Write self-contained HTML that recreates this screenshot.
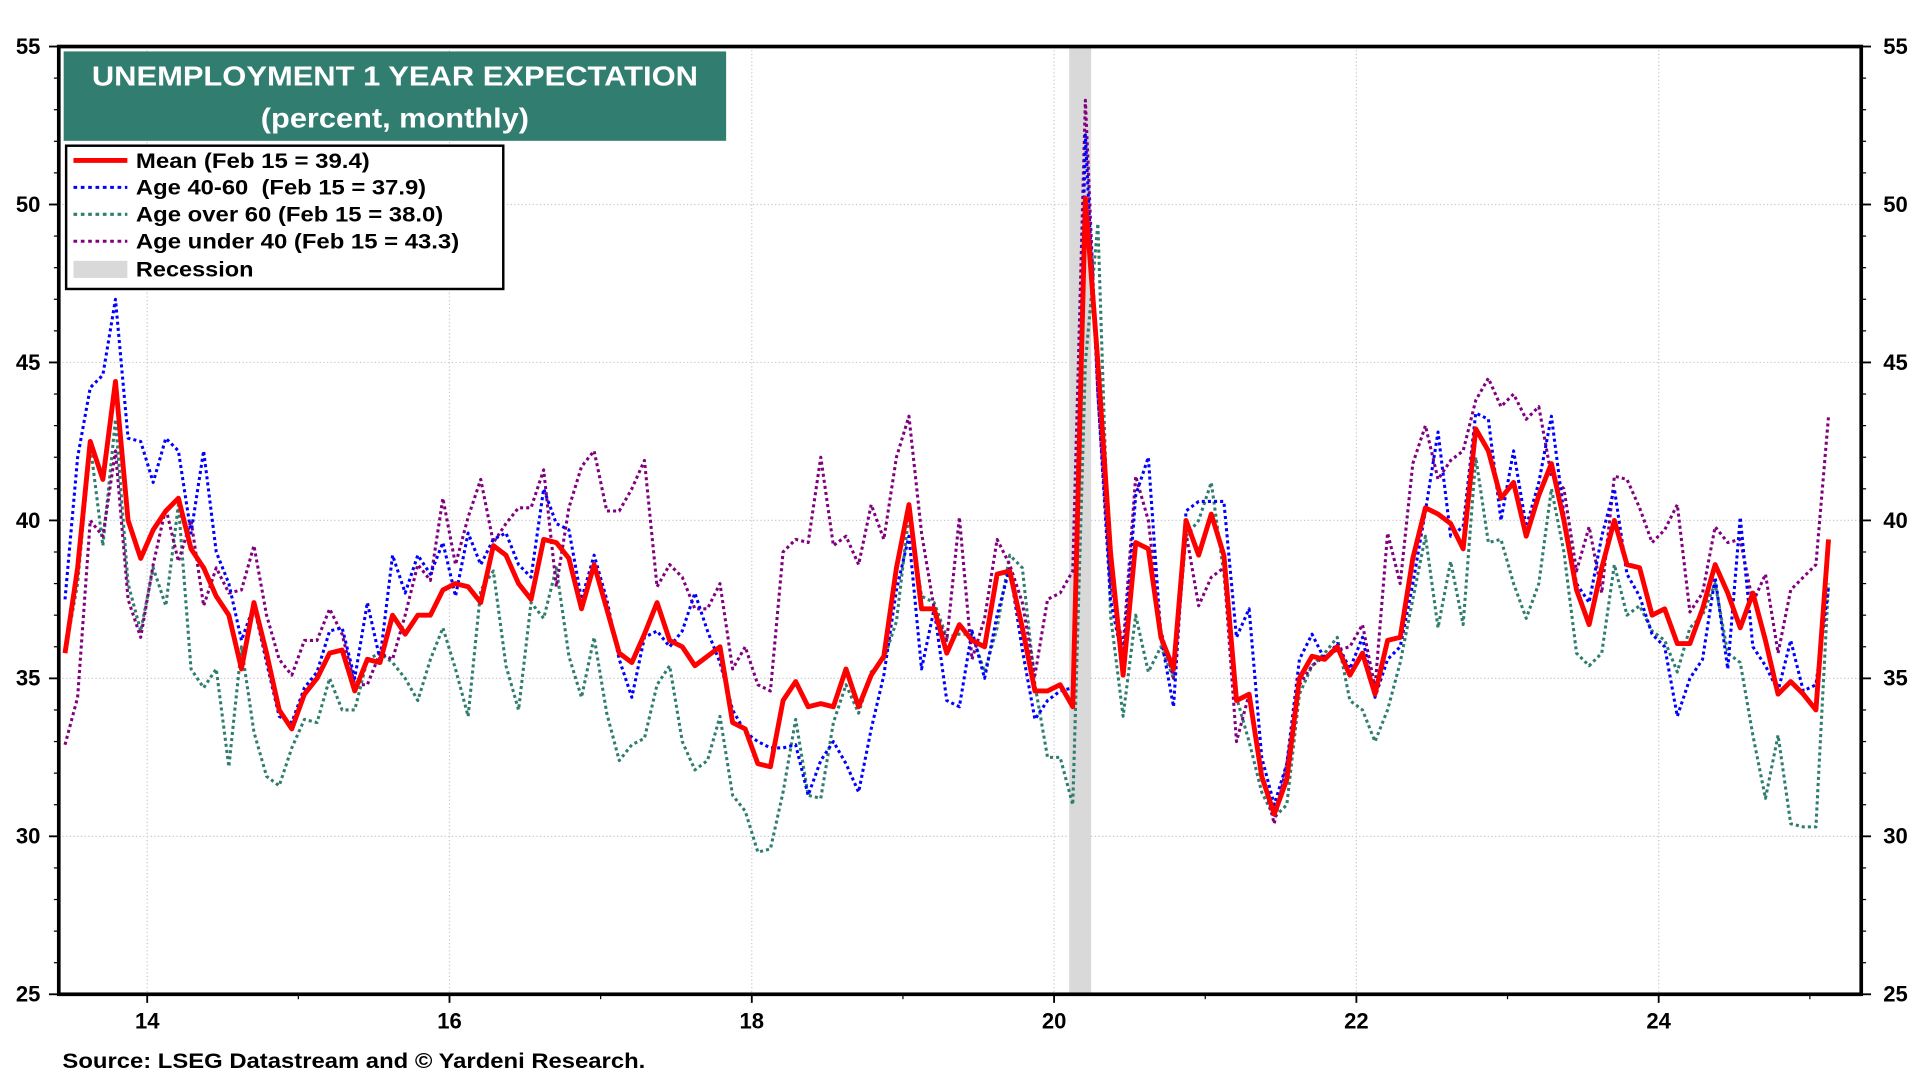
<!DOCTYPE html>
<html><head><meta charset="utf-8"><style>
html,body{margin:0;padding:0;background:#fff;}
svg{display:block;font-family:"Liberation Sans",Arial,sans-serif;}
</style></head><body>
<svg id="chart" width="1920" height="1080" viewBox="0 0 1568 882" xmlns="http://www.w3.org/2000/svg">
<g id="grid"></g>
<g id="rec"></g>
<g id="series"></g>
<rect x="48" y="38" width="1472" height="774" fill="none" stroke="#000" stroke-width="3"/>
<g id="axes"></g>
<g>
<rect x="52" y="42" width="541" height="73" fill="#317e70"/>
<text x="75" y="70" textLength="495" lengthAdjust="spacingAndGlyphs" fill="#fff" font-size="23" font-weight="bold">UNEMPLOYMENT 1 YEAR EXPECTATION</text>
<text x="213" y="104" textLength="219" lengthAdjust="spacingAndGlyphs" fill="#fff" font-size="23" font-weight="bold">(percent, monthly)</text>
</g>
<g font-size="17" font-weight="bold">
<rect x="54" y="119" width="357" height="117" fill="#fff" stroke="#000" stroke-width="2"/>
<g><line x1="60" y1="131" x2="104" y2="131" stroke="#f00" stroke-width="4"/><text x="111" y="137" textLength="191" lengthAdjust="spacingAndGlyphs">Mean (Feb 15 = 39.4)</text></g>
<g><line x1="60" y1="153" x2="104" y2="153" stroke="#00f" stroke-width="2.5" stroke-dasharray="3,3"/><text x="111" y="159" textLength="237" lengthAdjust="spacingAndGlyphs" xml:space="preserve">Age 40-60  (Feb 15 = 37.9)</text></g>
<g><line x1="60" y1="175" x2="104" y2="175" stroke="#2e7d6e" stroke-width="2.5" stroke-dasharray="3,3"/><text x="111" y="181" textLength="251" lengthAdjust="spacingAndGlyphs">Age over 60 (Feb 15 = 38.0)</text></g>
<g><line x1="60" y1="197" x2="104" y2="197" stroke="#800080" stroke-width="2.5" stroke-dasharray="3,3"/><text x="111" y="203" textLength="264" lengthAdjust="spacingAndGlyphs">Age under 40 (Feb 15 = 43.3)</text></g>
<g><rect x="60" y="213" width="44" height="14" fill="#d9d9d9"/><text x="111" y="226" textLength="96" lengthAdjust="spacingAndGlyphs">Recession</text></g>
</g>
<text x="51" y="872" textLength="476" lengthAdjust="spacingAndGlyphs" font-size="17" font-weight="bold">Source: LSEG Datastream and © Yardeni Research.</text>
</svg>
<script>
const yTicks=[25,30,35,40,45,50,55];
const xTickYears=[2014,2016,2018,2020,2022,2024];
const xTickLabels=["14","16","18","20","22","24"];
const startYear=2013, startMonth=6;
const recession=[[2020.1,2020.245]];
const meanVals=[35.8,38.5,42.5,41.3,44.4,40.0,38.8,
39.7,40.3,40.7,39.1,38.5,37.6,37.0,35.3,37.4,35.8,34.0,33.4,
34.5,35.0,35.8,35.9,34.6,35.6,35.5,37.0,36.4,37.0,37.0,37.8,
38.0,37.9,37.4,39.2,38.9,38.0,37.5,39.4,39.3,38.8,37.2,38.6,
37.2,35.8,35.5,36.4,37.4,36.2,36.0,35.4,35.7,36.0,33.6,33.4,
32.3,32.2,34.3,34.9,34.1,34.2,34.1,35.3,34.1,35.1,35.7,38.5,
40.5,37.2,37.2,35.8,36.7,36.2,36.0,38.3,38.4,36.6,34.6,34.6,
34.8,34.1,50.2,45.0,39.0,35.1,39.3,39.1,36.3,35.3,40.0,38.9,
40.2,38.9,34.3,34.5,31.9,30.7,31.8,35.0,35.7,35.6,36.0,35.1,
35.8,34.5,36.2,36.3,38.8,40.4,40.2,39.9,39.1,42.9,42.2,40.7,
41.2,39.5,40.8,41.8,40.0,37.8,36.7,38.5,40.0,38.6,38.5,37.0,
37.2,36.1,36.1,37.2,38.6,37.7,36.6,37.7,36.2,34.5,34.9,34.5,
34.0,39.4];
const age4060Vals=[37.5,42,44.2,44.6,47.0,42.6,42.5,41.2,42.6,42.2,
39.6,42.2,39.0,38.0,36.2,37.3,35.5,33.8,33.6,34.7,
35.2,36.5,36.6,35.0,37.4,35.6,38.9,37.7,38.9,38.3,
39.3,37.6,39.6,38.6,39.4,39.6,38.6,38.2,41.0,39.9,
39.7,37.5,38.9,37.5,35.6,34.4,36.3,36.5,36.0,36.5,
37.7,36.5,35.5,34.0,33.3,33.0,32.8,32.8,32.9,31.3,
32.4,33.0,32.3,31.4,33.4,35.1,37.8,39.5,35.3,37.2,
34.3,34.1,36.5,35.0,37.0,38.5,35.9,33.7,34.3,34.6,
34.7,52.2,44.0,37.5,35.5,40.8,42.0,36.3,34.1,40.3,
40.6,40.6,40.6,36.3,37.2,32.5,31.0,32.3,35.6,36.4,
35.6,36.1,35.3,36.3,34.4,35.6,36.0,38.0,40.3,42.8,
39.5,39.8,43.4,43.2,40.0,42.2,39.8,41.2,43.3,40.2,
38.0,37.4,39.5,41.0,38.3,37.6,36.4,36.0,33.8,35.0,
35.6,38.2,35.3,40.1,36.0,35.4,34.6,36.2,34.6,34.8,37.9];
const over60Vals=[35.8,38,42.4,39.2,43.2,38.0,36.5,38.5,37.3,40.5,
35.3,34.7,35.3,32.2,36.0,33.3,31.9,31.6,32.8,33.7,
33.6,35.0,34.0,34.0,35.6,35.8,35.5,35.0,34.3,35.6,
36.6,35.3,33.8,37.8,38.4,35.4,34.0,37.4,36.9,38.5,
35.7,34.4,36.3,33.9,32.4,32.9,33.1,34.8,35.4,33.0,
32.1,32.4,33.8,31.3,30.8,29.5,29.6,31.4,33.7,31.3,
31.2,33.6,34.8,33.9,35.2,35.6,36.8,40.2,37.6,37.4,
36.3,36.4,36.4,35.2,36.6,38.9,38.5,34.8,32.5,32.5,
31.0,45.0,49.4,37.0,33.8,37.0,35.2,36.0,35.0,39.5,
40.0,41.2,38.3,34.4,33.0,31.4,30.6,31.0,34.5,35.4,
35.8,36.3,34.3,34.0,33.0,34.0,35.5,37.5,39.5,36.6,
38.7,36.7,42.0,39.3,39.4,38.0,36.9,38.0,41.0,39.0,
35.8,35.4,35.8,38.6,37.0,37.3,36.5,36.2,35.2,36.6,
37.0,38.0,35.8,35.5,33.2,31.2,33.2,30.4,30.3,30.3,38.0];
const under40Vals=[32.9,34.4,40.0,39.5,42.2,37.5,36.3,38.6,40.4,38.7,
40.0,37.3,38.5,37.7,37.8,39.2,37.0,35.6,35.1,36.2,
36.2,37.2,36.4,34.8,34.8,35.8,35.6,37.0,38.6,38.1,
40.7,38.6,40.1,41.3,39.3,39.9,40.4,40.4,41.6,37.9,
40.4,41.7,42.2,40.3,40.3,41.0,41.9,37.9,38.6,38.2,
37.2,37.2,38.0,35.3,36.0,34.8,34.6,39.0,39.4,39.3,
42.0,39.2,39.5,38.6,40.5,39.4,42.0,43.3,39.6,37.2,
36.2,40.1,35.6,36.9,39.4,38.6,37.4,35.1,37.5,37.7,
38.4,53.3,44.0,38.0,36.0,41.4,40.0,36.5,35.0,39.6,
37.3,38.2,38.5,33.0,34.5,32.0,30.4,32.3,34.8,35.4,
35.7,35.9,36.0,36.7,34.7,39.6,38.0,41.8,43.0,41.3,
41.9,42.2,43.8,44.5,43.6,44.0,43.2,43.6,41.4,41.0,
38.4,39.8,37.7,41.4,41.3,40.4,39.3,39.7,40.5,37.1,
37.7,39.8,39.3,39.4,37.4,38.3,35.8,37.8,38.2,38.6,43.3];

const NS="http://www.w3.org/2000/svg";
const L=48,R=1520,T=38,B=812;
const X0=2013.415,X1=2025.34,Y0=25,Y1=55;
function xs(t){return L+(t-X0)/(X1-X0)*(R-L);}
function ys(v){return B-(v-Y0)/(Y1-Y0)*(B-T);}
function tOf(i){const m=startMonth-1+i;return startYear+m/12+0.04;}
function mk(tag,attrs,parent){const e=document.createElementNS(NS,tag);for(const k in attrs)e.setAttribute(k,attrs[k]);parent.appendChild(e);return e;}
const grid=document.getElementById('grid'),axes=document.getElementById('axes'),rec=document.getElementById('rec'),ser=document.getElementById('series');
yTicks.forEach(v=>{
  const y=ys(v);
  if(v>Y0&&v<Y1){const g=mk('line',{x1:L,x2:R,y1:y,y2:y,stroke:'#c8c8c8','stroke-width':1,'stroke-dasharray':'1,2'},grid);
  
  }
  const a=mk('text',{x:33,y:y+6,'text-anchor':'end','font-size':18,'font-weight':'bold'},axes);a.textContent=v;
  
  
  const b=mk('text',{x:1558,y:y+6,'text-anchor':'end','font-size':18,'font-weight':'bold'},axes);b.textContent=v;
  
  
  mk('line',{x1:L-8,x2:L,y1:y,y2:y,stroke:'#000','stroke-width':1.5},axes);
  mk('line',{x1:R,x2:R+8,y1:y,y2:y,stroke:'#000','stroke-width':1.5},axes);
});
for(let v=Y0;v<=Y1;v++){const y=ys(v);mk('line',{x1:L-4,x2:L,y1:y,y2:y,stroke:'#000','stroke-width':1},axes);mk('line',{x1:R,x2:R+4,y1:y,y2:y,stroke:'#000','stroke-width':1},axes);}
xTickYears.forEach((yr,i)=>{
  const x=xs(yr);
  const g=mk('line',{x1:x,x2:x,y1:T,y2:B,stroke:'#c8c8c8','stroke-width':1,'stroke-dasharray':'1,2'},grid);
  
  
  mk('line',{x1:x,x2:x,y1:B,y2:B+7,stroke:'#000','stroke-width':1.5},axes);
  const t=mk('text',{x:x,y:B+28,'text-anchor':'middle','font-size':18,'font-weight':'bold'},axes);t.textContent=xTickLabels[i];
  
  
});
for(let yr=2014;yr<=2025;yr++){const x=xs(yr);mk('line',{x1:x,x2:x,y1:B,y2:B+4,stroke:'#000','stroke-width':1},axes);}
recession.forEach(r=>{
  const e=mk('rect',{x:xs(r[0]),y:T,width:xs(r[1])-xs(r[0]),height:B-T,fill:'#d9d9d9'},rec);
  
  
});
function line(vals,color,w,dash,name){
  const d=vals.map((v,i)=>(i?'L':'M')+xs(tOf(i)).toFixed(1)+','+ys(v).toFixed(1)).join('');
  const a={d:d,fill:'none',stroke:color,'stroke-width':w,'stroke-linejoin':'round'};
  if(dash)a['stroke-dasharray']=dash;
  const p=mk('path',a,ser);
  
  
}
line(over60Vals,'#2e7d6e',2.5,'2.5,2.5','series-age-over-60');
line(under40Vals,'#800080',2.5,'2.5,2.5','series-age-under-40');
line(age4060Vals,'#0000ff',2.5,'2.5,2.5','series-age-40-60');
line(meanVals,'#ff0000',4,null,'series-mean');
</script>
</body></html>
